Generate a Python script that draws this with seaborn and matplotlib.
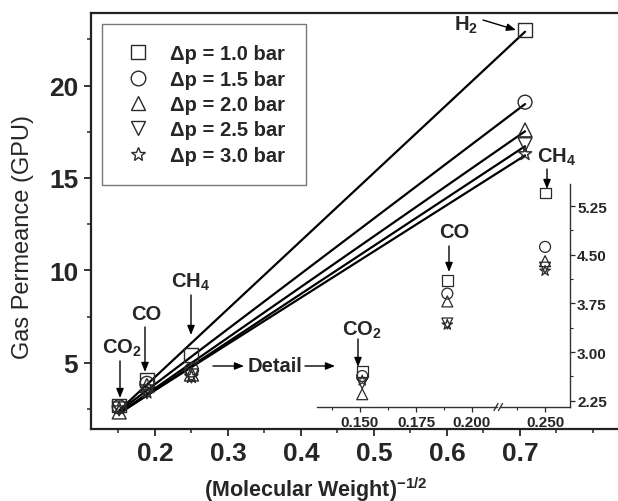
import numpy as np
import pandas as pd
import matplotlib
matplotlib.use("Agg")
import matplotlib.pyplot as plt
import seaborn as sns
from matplotlib.lines import Line2D
from matplotlib.ticker import MultipleLocator, FixedLocator

# (molecular weight)^-1/2 for each gas
gases = ["CO2", "CO", "CH4", "H2"]
inv_sqrt_mw = [0.151, 0.189, 0.250, 0.707]

# gas permeance (GPU) at each transmembrane pressure
pressures = ["1.0", "1.5", "2.0", "2.5", "3.0"]
perm_p10 = [2.70, 4.10, 5.45, 23.0]
perm_p15 = [2.63, 3.90, 4.62, 19.1]
perm_p20 = [2.35, 3.78, 4.40, 17.6]
perm_p25 = [2.52, 3.44, 4.30, 16.8]
perm_p30 = [2.56, 3.42, 4.25, 16.3]

main_xticks = [0.2, 0.3, 0.4, 0.5, 0.6, 0.7]
main_yticks = [5, 10, 15, 20]
inset_xticks_left = [0.150, 0.175, 0.200]
inset_xticks_right = [0.250]
inset_yticks = [2.25, 3.00, 3.75, 4.50, 5.25]

markers = ["s", "o", "^", "v", "*"]

sns.set_style("ticks")
plt.rcParams["font.family"] = ["Liberation Sans", "DejaVu Sans"]
plt.rcParams["mathtext.fontset"] = "custom"
plt.rcParams["mathtext.rm"] = "Liberation Sans:bold"
plt.rcParams["mathtext.it"] = "Liberation Sans:bold"
plt.rcParams["mathtext.bf"] = "Liberation Sans:bold"
plt.rcParams["mathtext.default"] = "regular"

rows = []
for p, vals in zip(pressures, [perm_p10, perm_p15, perm_p20, perm_p25, perm_p30]):
    for g, x, v in zip(gases, inv_sqrt_mw, vals):
        rows.append({"gas": g, "x": x, "perm": v, "dp": p})
df = pd.DataFrame(rows)

W, H = 618, 502
fig = plt.figure(figsize=(W / 100, H / 100), dpi=100)
fig.patch.set_facecolor("white")


def frac(px, py):
    return (px / W, 1 - py / H)


def box(x0, y0, x1, y1):
    return [x0 / W, 1 - y1 / H, (x1 - x0) / W, (y1 - y0) / H]


EDGE = "#2a2a2a"

# ---- main panel ----
ax = fig.add_axes(box(90.7, 14, 629, 430))
for p, m in zip(pressures, markers):
    sub = df[df.dp == p]
    sns.regplot(data=sub, x="x", y="perm", ax=ax, scatter=False, ci=None,
                truncate=True, color="black", line_kws=dict(lw=1.6, zorder=2))
    sns.scatterplot(data=sub, x="x", y="perm", ax=ax, marker=m, s=100,
                    facecolor="none", edgecolor=EDGE, linewidth=1.0, zorder=3)

ax.set_xlim(0.112, 0.8494)
ax.set_ylim(1.43, 23.92)
ax.xaxis.set_major_locator(FixedLocator(main_xticks))
ax.xaxis.set_minor_locator(MultipleLocator(0.05))
ax.yaxis.set_major_locator(FixedLocator(main_yticks))
ax.yaxis.set_minor_locator(MultipleLocator(2.5))
ax.set_xticklabels([f"{v:.1f}" for v in main_xticks])
ax.set_yticklabels([str(v) for v in main_yticks])
ax.tick_params(which="major", direction="out", length=5, width=1.3,
               labelsize=19, pad=4)
ax.tick_params(which="minor", direction="out", length=3, width=1.1)
for lab in ax.get_xticklabels() + ax.get_yticklabels():
    lab.set_fontweight("bold")
for s in ["left", "bottom", "top"]:
    ax.spines[s].set_linewidth(1.6)
    ax.spines[s].set_color("#222222")
ax.spines["right"].set_visible(False)

ax.set_xlabel("(Molecular Weight)$^{-1/2}$", fontsize=15.5, fontweight="bold")
ax.xaxis.set_label_coords(0.418, -0.108)
ax.set_ylabel("Gas Permeance (GPU)", fontsize=17)
ax.yaxis.set_label_coords(-0.105, 0.463)

handles = [Line2D([], [], marker=m, ls="none", mfc="none", mec=EDGE,
                  ms=10.5, mew=1.0) for m in markers]
labels = [f"\u0394p = {p} bar" for p in pressures]
leg = ax.legend(handles, labels, loc="upper left",
                bbox_to_anchor=(0.021, 0.9736), frameon=True, fancybox=False,
                prop={"weight": "bold", "size": 14.5}, handlelength=1.6,
                handletextpad=0.8, labelspacing=0.32, borderpad=1.0,
                borderaxespad=0)
leg.get_frame().set_edgecolor("#555555")
leg.get_frame().set_linewidth(1.0)

# ---- broken-axis inset ----
inset_df = df[df.gas != "H2"]
ai1 = fig.add_axes(box(317, 185, 497, 408))
ai2 = fig.add_axes(box(500, 185, 569.5, 408))
for a in (ai1, ai2):
    a.patch.set_alpha(0)
    for p, m in zip(pressures, markers):
        sub = inset_df[inset_df.dp == p]
        sns.scatterplot(data=sub, x="x", y="perm", ax=a, marker=m, s=62,
                        facecolor="none", edgecolor=EDGE, linewidth=0.9,
                        zorder=3)
    a.set_ylim(2.153, 5.589)
    a.set_xlabel("")
    a.set_ylabel("")
    a.spines["top"].set_visible(False)
    a.spines["left"].set_visible(False)
    a.spines["bottom"].set_linewidth(1.0)
    a.spines["bottom"].set_color("#333333")
    a.tick_params(which="major", direction="out", length=3.5, width=0.9,
                  labelsize=11, pad=2)
    a.tick_params(which="minor", direction="out", length=2, width=0.8)

ai1.set_xlim(0.1308, 0.2112)
ai1.spines["right"].set_visible(False)
ai1.xaxis.set_major_locator(FixedLocator(inset_xticks_left))
ai1.xaxis.set_minor_locator(FixedLocator([0.1375, 0.1625, 0.1875]))
ai1.set_xticklabels([f"{v:.3f}" for v in inset_xticks_left])
ai1.set_yticks([])

ai2.set_xlim(0.2299, 0.2609)
ai2.spines["right"].set_linewidth(1.0)
ai2.spines["right"].set_color("#333333")
ai2.xaxis.set_major_locator(FixedLocator(inset_xticks_right))
ai2.xaxis.set_minor_locator(FixedLocator([0.2375]))
ai2.set_xticklabels([f"{v:.3f}" for v in inset_xticks_right])
ai2.yaxis.tick_right()
ai2.yaxis.set_major_locator(FixedLocator(inset_yticks))
ai2.yaxis.set_minor_locator(MultipleLocator(0.375))
ai2.set_yticklabels([f"{v:.2f}" for v in inset_yticks])
for a in (ai1, ai2):
    for lab in a.get_xticklabels() + a.get_yticklabels():
        lab.set_fontweight("bold")

# axis-break marks
for x0 in (494, 498.5):
    fig.add_artist(Line2D([x0 / W, (x0 + 4) / W],
                          [1 - 411.5 / H, 1 - 404.5 / H],
                          color="#333333", lw=1.0))

# ---- labels and arrows ----
ARROW = dict(arrowstyle="-|>,head_length=0.55,head_width=0.22", lw=1.0,
             color="black", shrinkA=0, shrinkB=0)


def arrow(p0, p1):
    ax.annotate("", xy=frac(*p1), xycoords="figure fraction",
                xytext=frac(*p0), textcoords="figure fraction",
                arrowprops=ARROW, annotation_clip=False)


def label(px, py, text, size=14.5, ha="center"):
    fig.text(*frac(px, py), text, ha=ha, va="center", fontsize=size,
             fontweight="bold")


label(466, 25, "H$_2$")
arrow((483, 21), (516, 31))

label(122, 348, "CO$_2$")
arrow((120, 362), (120, 399))
label(146, 314, "CO")
arrow((145, 328), (145, 373))
label(191, 282, "CH$_4$")
arrow((191, 296), (191, 336))

arrow((213, 367), (244, 367))
label(248, 366, "Detail", ha="left")
arrow((305, 367), (335, 367))

label(362, 330, "CO$_2$")
arrow((358, 340), (358, 368))
label(454, 232, "CO")
arrow((449, 247), (449, 273))
label(557, 157, "CH$_4$")
arrow((547, 170), (547, 190))

fig.savefig("out.png", dpi=100)
